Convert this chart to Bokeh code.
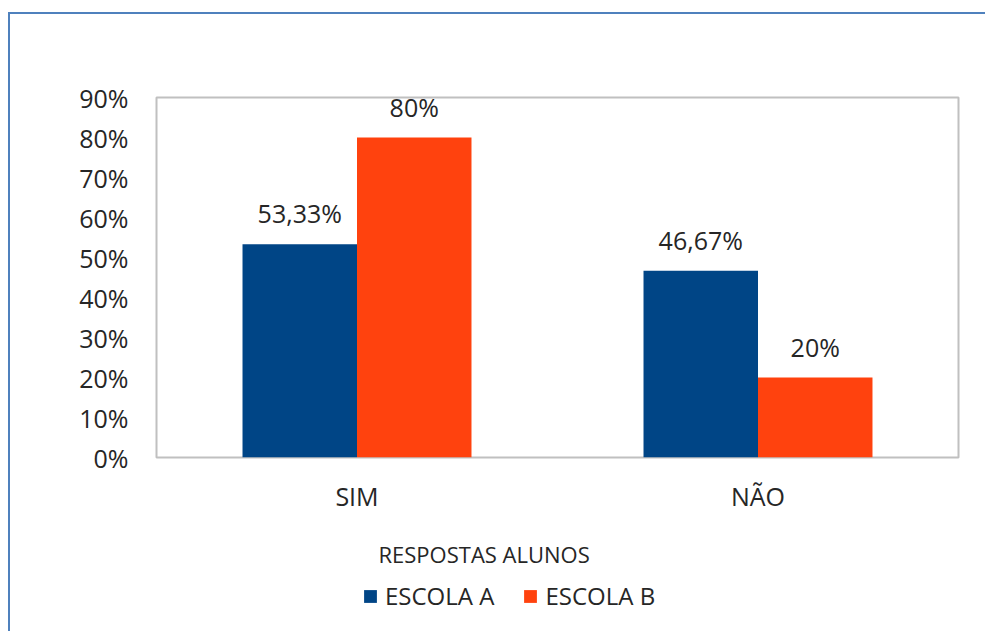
from bokeh.plotting import figure
from bokeh.layouts import column
from bokeh.models import (ColumnDataSource, FactorRange, Legend, LegendItem,
                          SingleIntervalTicker, PrintfTickFormatter, Label)
from bokeh.transform import dodge
from bokeh.core.properties import value
from bokeh.embed import file_html
from bokeh.resources import INLINE

# ---- data ----
categories = ["SIM", "NÃO"]
escola_a = [53.33, 46.67]
escola_b = [80, 20]
series_names = ["ESCOLA A", "ESCOLA B"]
x_title = "RESPOSTAS ALUNOS"
y_ticks_max = 90


def fmt(v):
    s = f"{v:.2f}".rstrip("0").rstrip(".")
    return s.replace(".", ",") + "%"


src = ColumnDataSource(dict(
    cat=categories,
    a=escola_a,
    b=escola_b,
    la=[fmt(v) for v in escola_a],
    lb=[fmt(v) for v in escola_b],
))

FONT = "Open Sans"
TXT = "#262626"
BLUE = "#004586"
ORANGE = "#ff420e"
FRAME_BLUE = "#4f81bd"
W = 975

# ---------------- main chart ----------------
p = figure(
    x_range=FactorRange(factors=categories, range_padding=0),
    y_range=(0, y_ticks_max),
    width=W, height=511,
    output_backend="svg", toolbar_location=None,
    min_border_left=146, min_border_top=83,
    min_border_right=27, min_border_bottom=68,
)

bw = 0.2855
off = bw / 2
ra = p.vbar(x=dodge("cat", -off, range=p.x_range), top="a", width=bw,
            source=src, fill_color=BLUE, line_color=None)
rb = p.vbar(x=dodge("cat", off, range=p.x_range), top="b", width=bw,
            source=src, fill_color=ORANGE, line_color=None)

p.text(x=dodge("cat", -off, range=p.x_range), y="a", text="la", source=src,
       text_align="center", text_baseline="alphabetic", y_offset=-31,
       text_font=value(FONT), text_font_size="25px", text_color=TXT)
p.text(x=dodge("cat", off, range=p.x_range), y="b", text="lb", source=src,
       text_align="center", text_baseline="alphabetic", y_offset=-31,
       text_font=value(FONT), text_font_size="25px", text_color=TXT)

p.outline_line_color = "#c0c0c0"
p.outline_line_width = 2
p.xgrid.visible = False
p.ygrid.visible = False

p.yaxis.ticker = SingleIntervalTicker(interval=10)
p.yaxis.formatter = PrintfTickFormatter(format="%d%%")
p.yaxis.axis_line_color = None
p.yaxis.major_tick_line_color = None
p.yaxis.minor_tick_line_color = None
p.yaxis.major_tick_out = 0
p.yaxis.major_label_standoff = 24
p.yaxis.major_label_text_font = FONT
p.yaxis.major_label_text_font_size = "25px"
p.yaxis.major_label_text_color = TXT

p.xaxis.axis_line_color = None
p.xaxis.major_tick_line_color = None
p.xaxis.major_tick_out = 0
p.xaxis.major_label_standoff = 21
p.xaxis.major_label_text_font = FONT
p.xaxis.major_label_text_font_size = "25px"
p.xaxis.major_label_text_color = TXT

# ---------------- axis title + legend strip ----------------
q = figure(
    width=W, height=106, x_range=(0, 1), y_range=(0, 1),
    x_axis_type=None, y_axis_type=None,
    output_backend="svg", toolbar_location=None, min_border=0,
)
q.outline_line_color = None
q.xgrid.visible = False
q.ygrid.visible = False

q.add_layout(Label(x=222, y=78, x_units="screen", y_units="screen",
                   text=x_title, text_align="left", text_baseline="alphabetic",
                   text_font=FONT, text_font_size="22px", text_color=TXT))

# legend swatches (placed off-range, only their legend glyphs show)
la = q.vbar(x=[-10], top=[0], width=0.1, fill_color=BLUE, line_color=None)
lb = q.vbar(x=[-10], top=[0], width=0.1, fill_color=ORANGE, line_color=None)
legend = Legend(
    items=[LegendItem(label=series_names[0], renderers=[la]),
           LegendItem(label=series_names[1], renderers=[lb])],
    orientation="horizontal", location=(206, 19),
    border_line_color=None, background_fill_alpha=0,
    label_text_font=FONT, label_text_font_size="24px", label_text_color=TXT,
    glyph_width=16, glyph_height=16, label_standoff=7, spacing=28,
    margin=0, padding=0,
)
q.add_layout(legend, "center")

layout = column(p, q, spacing=0)
layout.styles = {
    "border-top": f"2px solid {FRAME_BLUE}",
    "border-left": f"2px solid {FRAME_BLUE}",
    "margin-top": "12px",
    "margin-left": "8px",
}

open("out.html", "w").write(file_html(layout, INLINE))
